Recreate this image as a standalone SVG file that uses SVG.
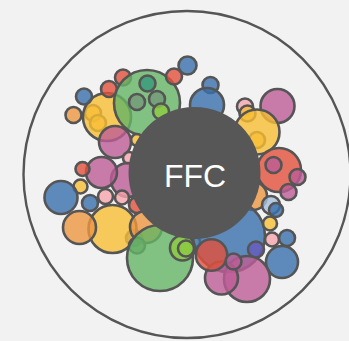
<svg xmlns="http://www.w3.org/2000/svg" width="349" height="341" viewBox="0 0 349 341">
<style>
.b{stroke:#555;stroke-width:2.6;fill-opacity:0.8}
.bl{fill:#386fac}.or{fill:#ec9641}.rd{fill:#e2503b}.gr{fill:#64b464}.ye{fill:#f7be34}
.mg{fill:#bd5c96}.lp{fill:#f6a5ab}.te{fill:#349879}.li{fill:#8cca41}.pu{fill:#665abe}
.gg{fill:#739879}.lb{fill:#a5bedd}.ly{fill:#f3ee90}
.lbl{font-family:"Liberation Sans",Arial,sans-serif;font-size:32px;fill:#fff;text-anchor:middle}
</style>
<rect width="349" height="341" fill="#f2f2f2"/>
<circle cx="187" cy="174.5" r="163.5" fill="none" stroke="#555" stroke-width="2.4"/>
<g id="bubbles">
<circle class="b ye" cx="93" cy="113" r="8"/>
<circle class="b ye" cx="98" cy="123" r="8"/>
<circle class="b ye" cx="107" cy="117" r="24"/>
<circle class="b or" cx="73.5" cy="115" r="8"/>
<circle class="b bl" cx="84" cy="96.5" r="8"/>
<circle class="b rd" cx="109" cy="89" r="8"/>
<circle class="b rd" cx="123" cy="77.5" r="8"/>
<circle class="b gr" cx="147" cy="103" r="33"/>
<circle class="b te" cx="147.5" cy="83.5" r="8"/>
<circle class="b gg" cx="137" cy="102" r="8"/>
<circle class="b gg" cx="157" cy="99" r="8"/>
<circle class="b li" cx="161" cy="111.5" r="8"/>
<circle class="b rd" cx="174" cy="76.5" r="8"/>
<circle class="b bl" cx="187.5" cy="65.5" r="9"/>
<circle class="b bl" cx="210.5" cy="85" r="8"/>
<circle class="b bl" cx="207" cy="105" r="17"/>
<circle class="b ye" cx="137" cy="140" r="6"/>
<circle class="b mg" cx="115" cy="142" r="16"/>
<circle class="b lp" cx="245" cy="106.5" r="8"/>
<circle class="b mg" cx="277.5" cy="106" r="17"/>
<circle class="b ye" cx="247.5" cy="113.5" r="8"/>
<circle class="b ye" cx="257" cy="140" r="8"/>
<circle class="b ye" cx="257" cy="132" r="22.5"/>
<circle class="b rd" cx="279" cy="170" r="22"/>
<circle class="b mg" cx="273.5" cy="165" r="8"/>
<circle class="b mg" cx="297.5" cy="177" r="8"/>
<circle class="b mg" cx="288.5" cy="192" r="8"/>
<circle class="b or" cx="253" cy="196" r="14"/>
<circle class="b lp" cx="129" cy="158" r="6"/>
<circle class="b mg" cx="128" cy="180" r="17"/>
<circle class="b mg" cx="101.5" cy="172.5" r="15.5"/>
<circle class="b rd" cx="82.5" cy="169" r="7"/>
<circle class="b ye" cx="80.5" cy="186.5" r="7"/>
<circle class="b bl" cx="61" cy="197.5" r="16.5"/>
<circle class="b bl" cx="90" cy="203" r="8"/>
<circle class="b lp" cx="105.5" cy="196.5" r="7.5"/>
<circle class="b lp" cx="122" cy="197.5" r="7"/>
<circle class="b rd" cx="137" cy="205" r="8"/>
<circle class="b pu" cx="134" cy="238" r="8"/>
<circle class="b ye" cx="112.5" cy="229" r="24"/>
<circle class="b or" cx="79.5" cy="227.5" r="16.5"/>
<circle class="b or" cx="146" cy="227" r="16"/>
<circle class="b gg" cx="137" cy="245.5" r="8"/>
<circle class="b gr" cx="160" cy="258" r="33"/>
<circle class="b ly" cx="195" cy="242" r="5"/>
<circle class="b li" cx="182.5" cy="248" r="12.5"/>
<circle class="b li" cx="186" cy="248.5" r="8"/>
<circle class="b bl" cx="229" cy="236" r="36"/>
<circle class="b lb" cx="271" cy="205" r="9"/>
<circle class="b bl" cx="276" cy="210" r="7"/>
<circle class="b ye" cx="270" cy="223.5" r="7"/>
<circle class="b lp" cx="272" cy="239.5" r="7"/>
<circle class="b bl" cx="287" cy="238" r="8"/>
<circle class="b pu" cx="256" cy="249.5" r="8"/>
<circle class="b bl" cx="282" cy="262" r="16"/>
<circle class="b mg" cx="247" cy="279" r="23"/>
<circle class="b mg" cx="221.5" cy="278" r="16.5"/>
<circle class="b rd" cx="211.5" cy="255" r="15.7"/>
<circle class="b mg" cx="233.5" cy="261.5" r="8"/>
</g>
<g id="ffc">
<circle cx="194.5" cy="173" r="66" fill="#575757"/>
<text class="lbl" x="195" y="187">FFC</text>
</g>
</svg>
